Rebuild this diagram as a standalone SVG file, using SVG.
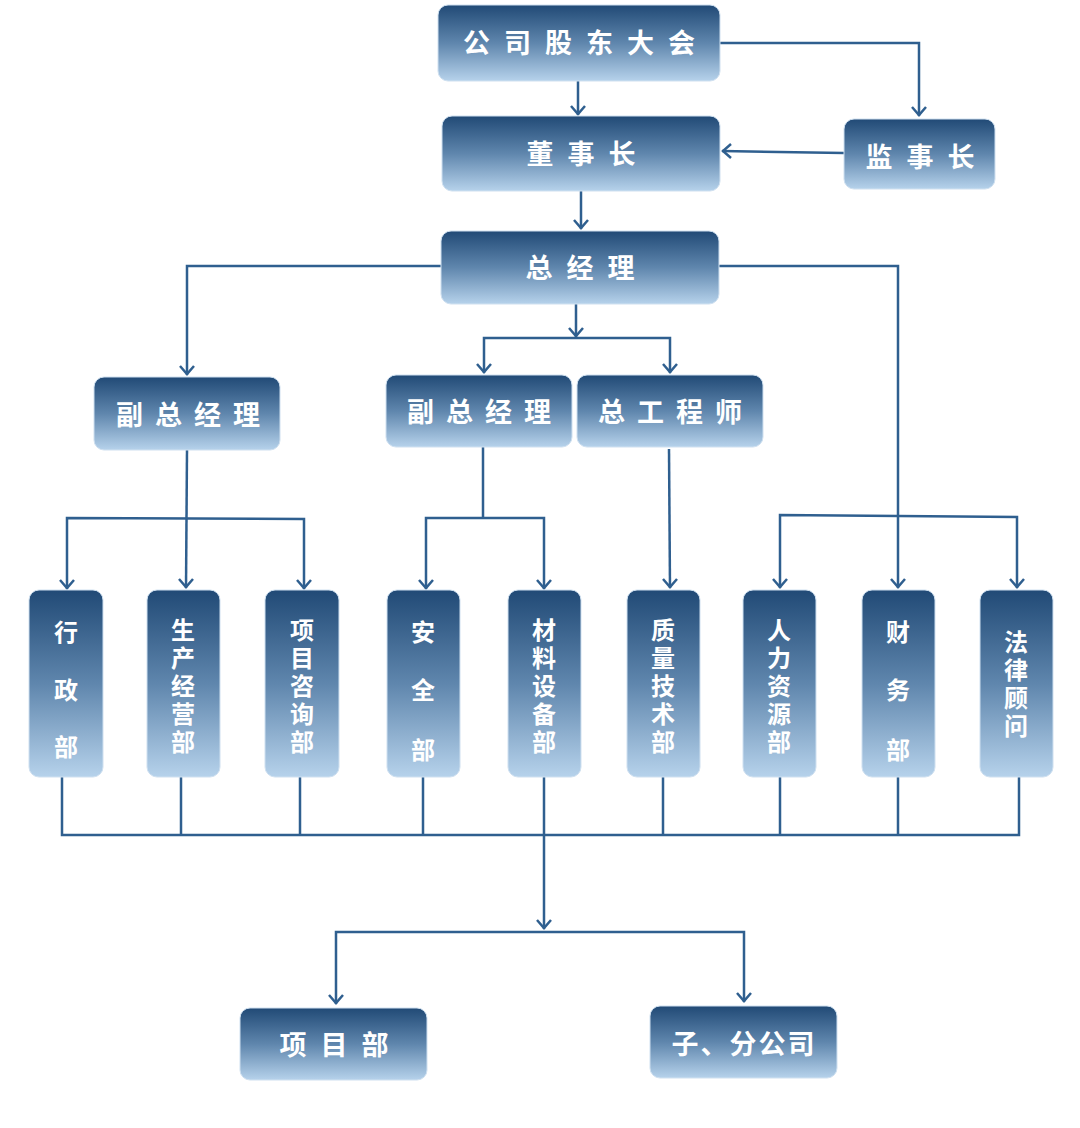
<svg xmlns="http://www.w3.org/2000/svg" width="1080" height="1128" viewBox="0 0 1080 1128">
<defs>
<linearGradient id="g" x1="0" y1="0" x2="0" y2="1"><stop offset="0" stop-color="#214a76"/><stop offset="0.5" stop-color="#5f86ad"/><stop offset="1" stop-color="#b6d2eb"/></linearGradient>
<path id="ah" d="M-7,-9 L0,-1 L7,-9"/>
<style>
rect.n{fill:url(#g);stroke:#cfe0f0;stroke-width:1}
text{font-family:"Noto Sans CJK SC",sans-serif;font-weight:bold;fill:#fff;text-anchor:middle}
.h{font-size:27px;letter-spacing:14px}
.v{font-size:24px}
#c path,#c use{fill:none;stroke:#2f5f8f;stroke-width:2.5}
</style>
</defs>
<rect width="1080" height="1128" fill="#fff"/>
<g id="c">
<path d="M720,43 H919 V116"/>
<path d="M578,80 V115"/>
<path d="M844,153 L722,151"/>
<path d="M581,190 V229"/>
<path d="M441,266 H187 V375"/>
<path d="M719,266 H898 V588"/>
<path d="M576,303 V337"/>
<path d="M484,373 V338 H670 V373"/>
<path d="M187,450 L186,588"/>
<path d="M67,589 V518 L304,519 V589"/>
<path d="M483,447 V518"/>
<path d="M426,589 V518 H544 V589"/>
<path d="M669,449 L670,588"/>
<path d="M780,588 V515 L1017,517 V588"/>
<path d="M62,777 V835 H1019 V777 M181,777 V835 M300,777 V835 M423,777 V835 M663,777 V835 M780,777 V835 M898,777 V835"/>
<path d="M544,777 V929"/>
<path d="M336,1004 V932 H744 V1002"/>
<use href="#ah" x="919" y="116"/><use href="#ah" x="578" y="115"/><use href="#ah" transform="translate(722,151) rotate(90)"/>
<use href="#ah" x="581" y="229"/><use href="#ah" x="187" y="375"/><use href="#ah" x="898" y="588"/>
<use href="#ah" x="576" y="337"/><use href="#ah" x="484" y="373"/><use href="#ah" x="670" y="373"/>
<use href="#ah" x="186" y="588"/><use href="#ah" x="67" y="589"/><use href="#ah" x="304" y="589"/>
<use href="#ah" x="426" y="589"/><use href="#ah" x="544" y="589"/><use href="#ah" x="670" y="588"/>
<use href="#ah" x="780" y="588"/><use href="#ah" x="1017" y="588"/><use href="#ah" x="544" y="929"/>
<use href="#ah" x="336" y="1004"/><use href="#ah" x="744" y="1002"/>
</g>
<g id="n1"><rect class="n" x="438" y="5" width="282" height="76" rx="10"/><text class="h" x="586" y="53">公司股东大会</text></g>
<g id="n2"><rect class="n" x="442" y="116" width="278" height="75" rx="10"/><text class="h" x="588" y="164">董事长</text></g>
<g id="n3"><rect class="n" x="844" y="119" width="151" height="70" rx="10"/><text class="h" x="927" y="167">监事长</text></g>
<g id="n4"><rect class="n" x="441" y="231" width="278" height="73" rx="10"/><text class="h" x="587" y="278">总经理</text></g>
<g id="n5"><rect class="n" x="94" y="377" width="186" height="73" rx="10"/><text class="h" x="194" y="425" style="letter-spacing:12px">副总经理</text></g>
<g id="n6"><rect class="n" x="386" y="375" width="186" height="72" rx="10"/><text class="h" x="485" y="422" style="letter-spacing:12px">副总经理</text></g>
<g id="n7"><rect class="n" x="577" y="375" width="186" height="72" rx="10"/><text class="h" x="676" y="422" style="letter-spacing:12px">总工程师</text></g>
<g id="d1"><rect class="n" x="29" y="590" width="74" height="187" rx="10"/><text class="v" x="66" y="641">行</text><text class="v" x="66" y="699">政</text><text class="v" x="66" y="756">部</text></g>
<g id="d2"><rect class="n" x="147" y="590" width="73" height="187" rx="10"/><text class="v" x="183" y="639">生</text><text class="v" x="183" y="667">产</text><text class="v" x="183" y="695">经</text><text class="v" x="183" y="723">营</text><text class="v" x="183" y="751">部</text></g>
<g id="d3"><rect class="n" x="265" y="590" width="74" height="187" rx="10"/><text class="v" x="302" y="639">项</text><text class="v" x="302" y="667">目</text><text class="v" x="302" y="695">咨</text><text class="v" x="302" y="723">询</text><text class="v" x="302" y="751">部</text></g>
<g id="d4"><rect class="n" x="387" y="590" width="73" height="187" rx="10"/><text class="v" x="423" y="641">安</text><text class="v" x="423" y="699">全</text><text class="v" x="423" y="759">部</text></g>
<g id="d5"><rect class="n" x="508" y="590" width="73" height="187" rx="10"/><text class="v" x="544" y="639">材</text><text class="v" x="544" y="667">料</text><text class="v" x="544" y="695">设</text><text class="v" x="544" y="723">备</text><text class="v" x="544" y="751">部</text></g>
<g id="d6"><rect class="n" x="627" y="590" width="73" height="187" rx="10"/><text class="v" x="663" y="639">质</text><text class="v" x="663" y="667">量</text><text class="v" x="663" y="695">技</text><text class="v" x="663" y="723">术</text><text class="v" x="663" y="751">部</text></g>
<g id="d7"><rect class="n" x="743" y="590" width="73" height="187" rx="10"/><text class="v" x="779" y="639">人</text><text class="v" x="779" y="667">力</text><text class="v" x="779" y="695">资</text><text class="v" x="779" y="723">源</text><text class="v" x="779" y="751">部</text></g>
<g id="d8"><rect class="n" x="862" y="590" width="73" height="187" rx="10"/><text class="v" x="898" y="641">财</text><text class="v" x="898" y="699">务</text><text class="v" x="898" y="759">部</text></g>
<g id="d9"><rect class="n" x="980" y="590" width="73" height="187" rx="10"/><text class="v" x="1016" y="651">法</text><text class="v" x="1016" y="679">律</text><text class="v" x="1016" y="707">顾</text><text class="v" x="1016" y="735">问</text></g>
<g id="p1"><rect class="n" x="240" y="1008" width="187" height="72" rx="10"/><text class="h" x="341" y="1055">项目部</text></g>
<g id="p2"><rect class="n" x="650" y="1006" width="187" height="72" rx="10"/><text x="744" y="1054" style="font-size:27px;letter-spacing:2px">子、分公司</text></g>
</svg>
